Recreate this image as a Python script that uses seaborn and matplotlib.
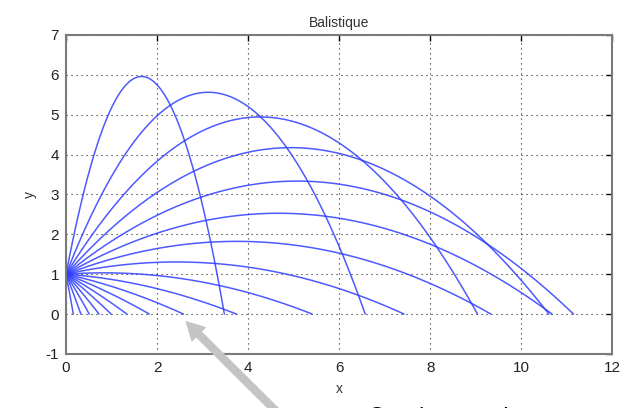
import numpy as np
import pandas as pd
import matplotlib
matplotlib.use("Agg")
import matplotlib.pyplot as plt
import seaborn as sns

# launch parameters
angles_deg = [-90, -80.5, -71.1, -61.6, -52.1, -42.6, -33.2, -23.7, -14.2, -4.7,
              4.7, 14.2, 23.7, 33.2, 42.6, 52.1, 61.6, 71.1, 80.5, 90]
v0 = 10.0     # initial speed
g = 9.81      # gravity
h0 = 1.0      # launch height
x_ticks = [0, 2, 4, 6, 8, 10, 12]
y_ticks = [-1, 0, 1, 2, 3, 4, 5, 6, 7]

# trajectories, each stopped when it reaches the ground
rows = []
for a in angles_deg:
    th = np.radians(a)
    vx, vy = v0 * np.cos(th), v0 * np.sin(th)
    t_end = (vy + np.sqrt(vy ** 2 + 2 * g * h0)) / g
    t = np.linspace(0, t_end, 80)
    for tt in t:
        rows.append((a, vx * tt, h0 + vy * tt - 0.5 * g * tt ** 2))
df = pd.DataFrame(rows, columns=["angle", "x", "y"])

sns.set_style("white")
plt.rcParams['font.family'] = ['Liberation Sans', 'DejaVu Sans']
plt.rcParams['axes.unicode_minus'] = False

fig = plt.figure(figsize=(6.2, 4.08), dpi=100)
ax = fig.add_axes([0.1065, 0.1324, 0.881, 0.782])

sns.lineplot(data=df, x="x", y="y", units="angle", estimator=None, sort=False,
             color="#2e3dff", linewidth=1.1, alpha=0.85, ax=ax, legend=False)

ax.set_xlim(0, 12)
ax.set_ylim(-1, 7)
ax.set_xticks(x_ticks)
ax.set_yticks(y_ticks)
ax.grid(True, linestyle=(0, (1, 3.5)), color="#222222", linewidth=0.8)
ax.tick_params(direction="in", length=4, width=1, color="black",
               labelsize=11, labelcolor="#222222", pad=5, top=True, right=True)
for sp in ax.spines.values():
    sp.set_color("#7a7a7a")
    sp.set_linewidth(1.5)
ax.set_title("Balistique", fontsize=10, color="#333333", pad=6)
ax.set_xlabel("x", fontsize=10, color="#333333", labelpad=5)
ax.set_ylabel("y", fontsize=10, color="#333333", labelpad=6)

# grey pointer arrow drawn over the figure
ax.annotate("", xy=(2.62, -0.17), xycoords="data",
            xytext=(0.46, -0.03), textcoords="figure fraction",
            arrowprops=dict(arrowstyle="simple,head_length=1.4,head_width=1.5,tail_width=0.6",
                            color="#c4c4c4", lw=0, shrinkA=0, shrinkB=0),
            annotation_clip=False)

# caption below the picture, only its top shows in the reference
fig.text(0.593, 0.003, "Courbe enveloppe", fontsize=17, color="black", va="top", ha="left")

fig.savefig("out.png", dpi=100)
